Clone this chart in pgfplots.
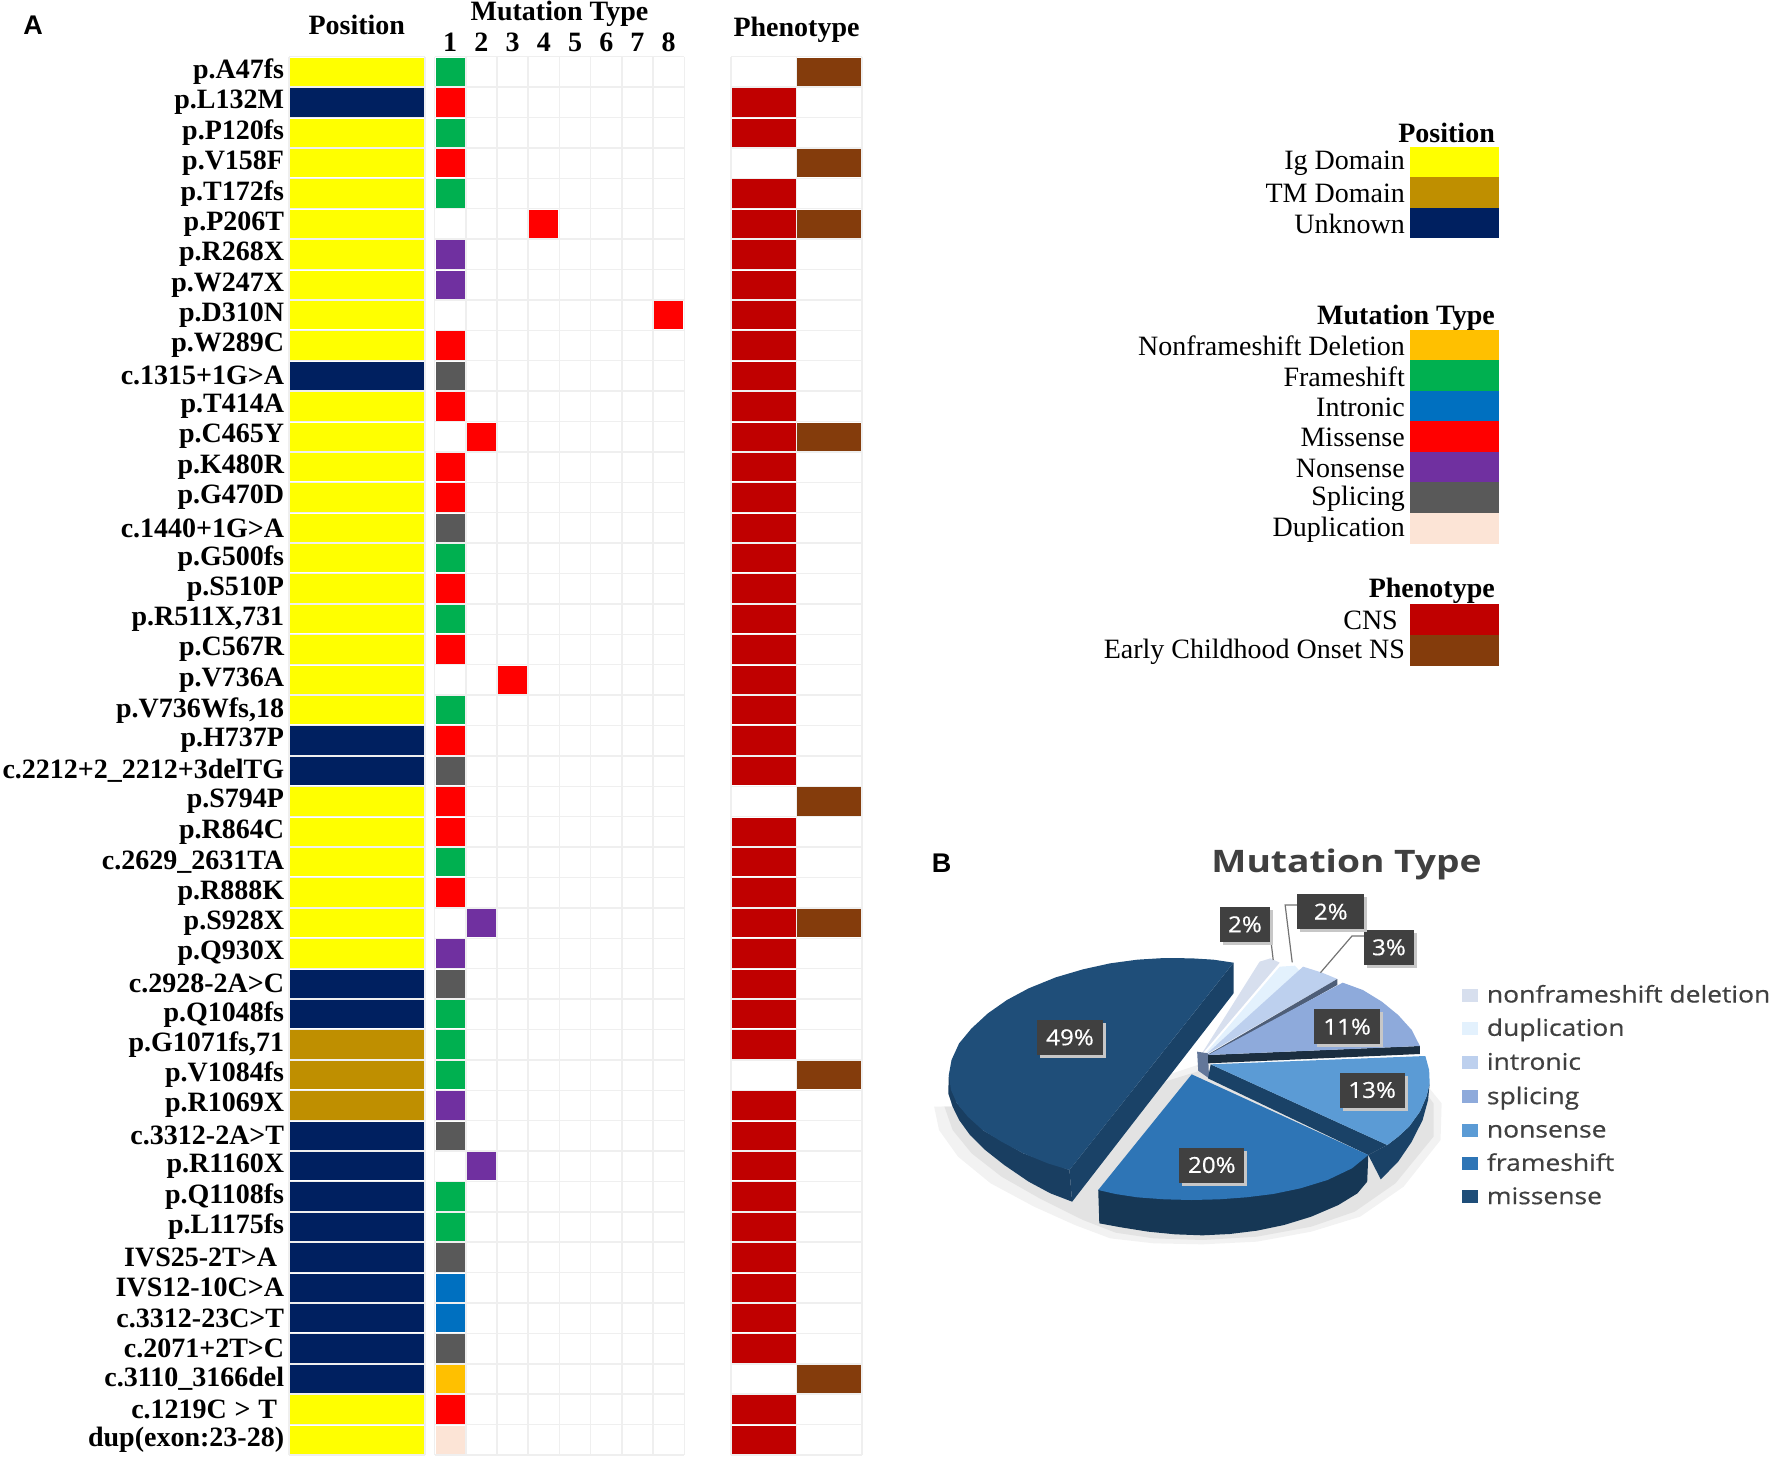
\documentclass[border=0pt]{standalone}
\usepackage{pgfplots}
\pgfplotsset{compat=1.18}
\usepackage{fontspec}
\setmainfont{Liberation Serif}
\newfontfamily\piefont{Open Sans}
\newfontfamily\piebold[FakeBold=0.5]{Open Sans}
\newfontfamily\panelfont{Liberation Sans}

\definecolor{igdom}{HTML}{FFFF00}
\definecolor{tmdom}{HTML}{BF8F00}
\definecolor{unkn}{HTML}{002060}
\definecolor{nfsd}{HTML}{FFC000}
\definecolor{fshift}{HTML}{00B050}
\definecolor{intron}{HTML}{0070C0}
\definecolor{miss}{HTML}{FF0000}
\definecolor{nons}{HTML}{7030A0}
\definecolor{splic}{HTML}{595959}
\definecolor{dupl}{HTML}{FCE4D6}
\definecolor{cns}{HTML}{C00000}
\definecolor{early}{HTML}{843C0C}
\definecolor{gridc}{HTML}{EFEFEF}
\definecolor{pnfs}{HTML}{D7DFEE}
\definecolor{pdup}{HTML}{E3F1FD}
\definecolor{pint}{HTML}{BDD0EE}
\definecolor{pspl}{HTML}{8EAADB}
\definecolor{pnon}{HTML}{5B9BD5}
\definecolor{pfra}{HTML}{2E75B6}
\definecolor{pmis}{HTML}{1F4E79}
\definecolor{boxc}{HTML}{404040}

\pgfplotsset{
  cell/.style n args={3}{only marks, mark=square*, mark size=1pt,
    mark options={draw opacity=0, fill=#1, xscale=#2, yscale=#3}},
  panel/.style={scale only axis, clip=false, y dir=reverse,
    ymin=0.5, ymax=46.5, height=1398.3pt,
    axis line style={draw=none}, tick style={draw=none},
    major tick length=0pt, minor tick length=0pt,
    minor grid style={color=gridc, line width=1.5pt},
    xminorgrids=true, yminorgrids=true,
    ytick={1,...,46}, yticklabels={},
    minor ytick={0.5,1.5,...,46.5},
    title style={at={(0.5,1)}, anchor=center,
      font=\fontsize{28}{30}\selectfont\bfseries},
  },
}

\newcommand{\pct}[4]{%
  \node[fill=black!22, minimum width=#3pt, minimum height=35pt, inner sep=0pt] at ([xshift=3pt,yshift=-3pt]axis cs:#1,#2) {};
  \node[fill=boxc, text=white, minimum width=#3pt, minimum height=35pt, inner sep=0pt,
    font=\piebold\fontsize{22}{24}\selectfont] at (axis cs:#1,#2) {\scalebox{1.1}[1]{#4}};}
\newcommand{\pieleg}[3]{%
  \addplot[cell={#3}{8}{6.5}] coordinates {(1013,#2)};
  \node[anchor=west, inner sep=0pt, text=boxc, text height=17pt, text depth=6pt, yshift=-2pt,
    font=\piebold\fontsize{23}{25}\selectfont] at (axis cs:1043,#2) {\scalebox{1.15}[1]{#1}};}

\begin{document}
\begin{tikzpicture}
\useasboundingbox (0,0) rectangle (1772pt,1460pt);

\node[font=\panelfont\bfseries\fontsize{27}{29}\selectfont] at (33pt,1435pt) {A};

% position column, holds the variant names
\begin{axis}[panel, at={(288.8pt,5pt)}, anchor=south west, width=136pt,
  xmin=0, xmax=1, xtick={0.5}, xticklabels={}, minor xtick={0,1},
  title={Position}, title style={yshift=25.5pt},
  yticklabels={p.A47fs,p.L132M,p.P120fs,p.V158F,p.T172fs,p.P206T,p.R268X,p.W247X,p.D310N,p.W289C,
    c.1315+1G>A,p.T414A,p.C465Y,p.K480R,p.G470D,c.1440+1G>A,p.G500fs,p.S510P,{p.R511X,731},p.C567R,
    p.V736A,{p.V736Wfs,18},p.H737P,c.2212+2\_2212+3delTG,p.S794P,p.R864C,c.2629\_2631TA,p.R888K,p.S928X,p.Q930X,
    c.2928-2A>C,p.Q1048fs,{p.G1071fs,71},p.V1084fs,p.R1069X,c.3312-2A>T,p.R1160X,p.Q1108fs,p.L1175fs,IVS25-2T>A\rule{7pt}{0pt},
    IVS12-10C>A,c.3312-23C>T,c.2071+2T>C,c.3110\_3166del,c.1219C\;>\;T\rule{7pt}{0pt},dup(exon:23-28)},
  yticklabel style={font=\fontsize{28}{30}\selectfont\bfseries, anchor=east, inner sep=0pt, xshift=-4.5pt},
]
\addplot[cell={igdom}{67.2}{14.2}] coordinates {(0.5,1)(0.5,3)(0.5,4)(0.5,5)(0.5,6)(0.5,7)(0.5,8)(0.5,9)(0.5,10)
  (0.5,12)(0.5,13)(0.5,14)(0.5,15)(0.5,16)(0.5,17)(0.5,18)(0.5,19)(0.5,20)(0.5,21)(0.5,22)
  (0.5,25)(0.5,26)(0.5,27)(0.5,28)(0.5,29)(0.5,30)(0.5,45)(0.5,46)};
\addplot[cell={tmdom}{67.2}{14.2}] coordinates {(0.5,33)(0.5,34)(0.5,35)};
\addplot[cell={unkn}{67.2}{14.2}] coordinates {(0.5,2)(0.5,11)(0.5,23)(0.5,24)(0.5,31)(0.5,32)(0.5,36)(0.5,37)(0.5,38)
  (0.5,39)(0.5,40)(0.5,41)(0.5,42)(0.5,43)(0.5,44)};
\end{axis}

% mutation type columns
\begin{axis}[panel, at={(434.6pt,5pt)}, anchor=south west, width=249.7pt,
  xmin=0.5, xmax=8.5,
  xtick={1,...,8}, xticklabels={1,2,3,4,5,6,7,8}, xticklabel pos=upper,
  minor xtick={0.5,1.5,...,8.5},
  xticklabel style={font=\fontsize{28}{30}\selectfont\bfseries, inner sep=0pt, yshift=5pt},
  title={Mutation Type}, title style={yshift=37pt},
]
\addplot[cell={fshift}{14.6}{14.2}] coordinates {(1,1)(1,3)(1,5)(1,17)(1,19)(1,22)(1,27)(1,32)(1,33)(1,34)(1,38)(1,39)};
\addplot[cell={miss}{14.6}{14.2}] coordinates {(1,2)(1,4)(4,6)(8,9)(1,10)(1,12)(2,13)(1,14)(1,15)(1,18)(1,20)(3,21)
  (1,23)(1,25)(1,26)(1,28)(1,45)};
\addplot[cell={nons}{14.6}{14.2}] coordinates {(1,7)(1,8)(2,29)(1,30)(1,35)(2,37)};
\addplot[cell={splic}{14.6}{14.2}] coordinates {(1,11)(1,16)(1,24)(1,31)(1,36)(1,40)(1,43)};
\addplot[cell={intron}{14.6}{14.2}] coordinates {(1,41)(1,42)};
\addplot[cell={nfsd}{14.6}{14.2}] coordinates {(1,44)};
\addplot[cell={dupl}{14.6}{14.2}] coordinates {(1,46)};
\end{axis}

% phenotype columns
\begin{axis}[panel, at={(730.8pt,5pt)}, anchor=south west, width=131.4pt,
  xmin=0.5, xmax=2.5, xtick={1,2}, xticklabels={},
  minor xtick={0.5,1.5,2.5},
  title={Phenotype}, title style={yshift=21pt},
]
\addplot[cell={cns}{31.9}{14.2}] coordinates {(1,2)(1,3)(1,5)(1,6)(1,7)(1,8)(1,9)(1,10)(1,11)(1,12)(1,13)(1,14)(1,15)
  (1,16)(1,17)(1,18)(1,19)(1,20)(1,21)(1,22)(1,23)(1,24)(1,26)(1,27)(1,28)(1,29)(1,30)(1,31)(1,32)(1,33)
  (1,35)(1,36)(1,37)(1,38)(1,39)(1,40)(1,41)(1,42)(1,43)(1,45)(1,46)};
\addplot[cell={early}{31.9}{14.2}] coordinates {(2,1)(2,4)(2,6)(2,13)(2,25)(2,29)(2,34)(2,44)};
\end{axis}

% colour key
\begin{axis}[scale only axis, clip=false, at={(1410pt,760pt)}, anchor=south west,
  width=89pt, height=600pt, xmin=0, xmax=1, ymin=100, ymax=700, y dir=reverse,
  axis line style={draw=none}, tick style={draw=none}, major tick length=0pt, xtick=\empty,
  ytick={162.2,192.6,223.1,345,375.7,406.5,436.7,467.2,497.7,528.3,619.6,650.4},
  yticklabels={Ig Domain,TM Domain,Unknown,Nonframeshift Deletion,Frameshift,Intronic,Missense,Nonsense,Splicing,Duplication,CNS\rule{7pt}{0pt},Early Childhood Onset NS},
  yticklabel style={font=\fontsize{28}{30}\selectfont, anchor=east, inner sep=0pt, xshift=-5pt, yshift=-1pt},
]
\addplot[cell={igdom}{44.5}{15.3}] coordinates {(0.5,162.2)};
\addplot[cell={tmdom}{44.5}{15.3}] coordinates {(0.5,192.6)};
\addplot[cell={unkn}{44.5}{15.3}] coordinates {(0.5,223.1)};
\addplot[cell={nfsd}{44.5}{15.3}] coordinates {(0.5,345)};
\addplot[cell={fshift}{44.5}{15.3}] coordinates {(0.5,375.7)};
\addplot[cell={intron}{44.5}{15.3}] coordinates {(0.5,406.5)};
\addplot[cell={miss}{44.5}{15.3}] coordinates {(0.5,436.7)};
\addplot[cell={nons}{44.5}{15.3}] coordinates {(0.5,467.2)};
\addplot[cell={splic}{44.5}{15.3}] coordinates {(0.5,497.7)};
\addplot[cell={dupl}{44.5}{15.3}] coordinates {(0.5,528.3)};
\addplot[cell={cns}{44.5}{15.3}] coordinates {(0.5,619.6)};
\addplot[cell={early}{44.5}{15.3}] coordinates {(0.5,650.4)};
\node[anchor=east, inner sep=0pt, font=\fontsize{28}{30}\selectfont\bfseries] at ([xshift=-4pt]axis cs:1,132.6) {Position};
\node[anchor=east, inner sep=0pt, font=\fontsize{28}{30}\selectfont\bfseries] at ([xshift=-4pt]axis cs:1,318) {Mutation Type};
\node[anchor=east, inner sep=0pt, font=\fontsize{28}{30}\selectfont\bfseries] at ([xshift=-4pt]axis cs:1,590.7) {Phenotype};
\end{axis}

% pie, outlines
\begin{axis}[scale only axis, hide axis, clip=false, at={(920pt,190pt)}, anchor=south west,
  width=852pt, height=440pt, xmin=0, xmax=1568, ymin=0, ymax=1320, y dir=reverse]
\node[font=\panelfont\bfseries\fontsize{27}{29}\selectfont] at (axis cs:40,100) {B};
\node[font=\piefont\bfseries\fontsize{31}{33}\selectfont, text=boxc] at (axis cs:785,104) {\scalebox{1.2}[1]{Mutation Type}};
% shadow
\addplot[fill=black!5, draw=none] coordinates {(26,830)(35,900)(70,980)(130,1060)(210,1130)(285,1185)(350,1225)(430,1240)(520,1243)(620,1235)(720,1205)(810,1160)(890,1070)(958,930)(960,820)(900,700)(520,700)(300,820)};
\addplot[fill=black!11, draw=none] coordinates {(45,830)(60,900)(95,970)(150,1040)(220,1105)(300,1170)(360,1208)(430,1225)(520,1230)(620,1220)(720,1190)(800,1145)(875,1060)(945,920)(945,820)(900,720)(520,720)(300,830)};
% small slices
\addplot[fill=pnfs, draw=none] coordinates {(515,680)(625,395)(645,385)(662,398)};
\addplot[fill=pdup, draw=none] coordinates {(520,680)(662,410)(690,407)(700,425)};
\addplot[fill=pint, draw=none] coordinates {(525,675)(705,410)(740,428)(768,447)};
\addplot[fill=black!45!pspl, draw=none] coordinates {(525,678)(768,447)(768,465)(530,682)};
\addplot[fill=black!30!pspl, draw=none] coordinates {(510,665)(530,670)(532,745)(512,722)};
% splicing
\addplot[fill=black!70!pnon, draw=none] coordinates {(530,675)(920,648)(920,672)(530,700)};
\addplot[fill=pspl, draw=none] coordinates {(530,675)(778,458)(815,480)(850,515)(880,555)(905,600)(920,648)};
% nonsense
\addplot[fill=pmis!85!black, draw=none] coordinates {(938,760)(935,810)(925,870)(905,935)(880,995)(848,1048)(825,975)(860,945)(880,920)(900,890)(920,845)(932,800)};
\addplot[fill=pmis!85!black, draw=none] coordinates {(535,703)(530,745)(825,975)(860,945)};
\addplot[fill=pnon, draw=none] coordinates {(535,703)(930,678)(937,720)(938,760)(932,800)(920,845)(900,890)(880,920)(860,945)};
% frameshift
\addplot[fill=pmis!70!black, draw=none] coordinates {(328,1080)(330,1180)(370,1192)(420,1205)(470,1213)(520,1216)(570,1212)(620,1202)(670,1185)(720,1160)(770,1125)(805,1090)(823,1055)(825,975)};
\addplot[fill=pfra, draw=none] coordinates {(500,733)(825,975)(795,1015)(750,1050)(700,1075)(650,1092)(600,1102)(550,1108)(500,1110)(450,1108)(400,1102)(360,1092)(328,1080)};
% missense
\addplot[fill=pmis!80!black, draw=none] coordinates {(53,735)(52,790)(60,830)(72,870)(92,915)(120,960)(155,1005)(200,1055)(240,1090)(280,1115)(275,1020)(190,970)(115,900)(68,820)};
\addplot[fill=pmis!85!black, draw=none] coordinates {(275,1020)(280,1115)(577,490)(577,398)};
\addplot[fill=pmis, draw=none] coordinates {(577,398)(540,389)(500,385)(450,384)(400,389)(350,400)(300,418)(250,442)(200,475)(160,510)(125,550)(95,595)(72,640)(58,690)(53,735)(57,780)(68,820)(88,860)(115,900)(150,935)(190,970)(235,1000)(275,1020)};
% leader lines
\addplot[color=black!55, line width=1.2pt] coordinates {(645,320)(650,390)};
\addplot[color=black!55, line width=1.2pt] coordinates {(694,225)(672,225)(685,397)};
\addplot[color=black!55, line width=1.2pt] coordinates {(817,318)(795,318)(737,428)};
\pct{276}{622}{66}{49\%}
\pct{537}{1005}{65}{20\%}
\pct{832}{780}{65}{13\%}
\pct{786}{590}{66}{11\%}
\pct{863}{352}{50.5}{3\%}
\pct{756}{245}{67}{2\%}
\pct{598}{283}{50.5}{2\%}
\pieleg{nonframeshift deletion}{495}{pnfs}
\pieleg{duplication}{595}{pdup}
\pieleg{intronic}{697}{pint}
\pieleg{splicing}{800}{pspl}
\pieleg{nonsense}{900}{pnon}
\pieleg{frameshift}{1000}{pfra}
\pieleg{missense}{1100}{pmis}
\end{axis}
\end{tikzpicture}
\end{document}
